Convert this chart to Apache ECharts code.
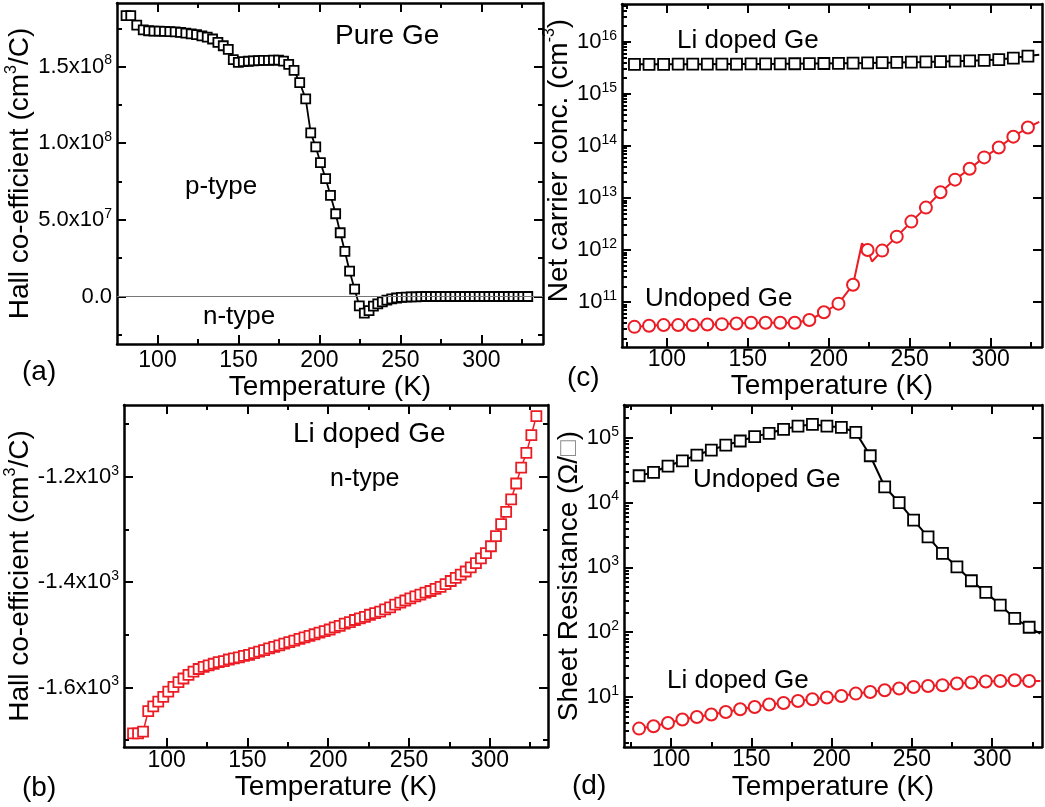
<!DOCTYPE html>
<html><head><meta charset="utf-8">
<script src="https://cdn.jsdelivr.net/npm/echarts@6/dist/echarts.min.js"></script>
<style>html,body{margin:0;padding:0;background:#fff}#c{width:1045px;height:807px}</style>
</head><body><div id="c"></div>
<script>
// ---------- DATA ----------
// (a) Pure Ge Hall coefficient (cm^3/C) vs T (K)
const aT = [80.6, 83.5, 87.2, 91.2, 94.5, 97.8, 101.0, 104.3, 107.6, 110.9,
  114.2, 117.5, 120.8, 124.1, 127.4, 130.7, 134.0, 137.3, 140.6, 143.7,
  146.8, 149.9, 153.0, 156.1, 159.2, 162.3, 165.4, 168.5, 171.6, 174.7,
  177.8, 181.0, 184.3, 187.8, 191.5, 194.6, 197.7, 200.6, 203.8, 206.8,
  210.0, 212.8, 215.7, 218.6, 221.7, 224.6, 227.7, 230.6, 233.3, 236.0,
  238.8, 241.6, 244.6, 247.6, 250.6, 253.6, 256.6, 259.6, 262.6, 265.6,
  268.6, 271.6, 274.6, 277.6, 280.6, 283.6, 286.6, 289.6, 292.6, 295.6,
  298.6, 301.6, 304.6, 307.6, 310.6, 313.6, 316.6, 319.6, 322.6, 325.6, 328.6];
const aR = [1.832e8, 1.832e8, 1.771e8, 1.740e8, 1.734e8, 1.732e8, 1.731e8, 1.730e8, 1.728e8, 1.726e8,
  1.723e8, 1.719e8, 1.714e8, 1.708e8, 1.701e8, 1.692e8, 1.680e8, 1.658e8, 1.636e8, 1.612e8,
  1.545e8, 1.528e8, 1.532e8, 1.535e8, 1.537e8, 1.539e8, 1.540e8, 1.541e8, 1.542e8, 1.542e8,
  1.536e8, 1.515e8, 1.475e8, 1.395e8, 1.290e8, 1.067e8, 0.976e8, 0.874e8, 0.769e8, 0.660e8,
  0.540e8, 0.416e8, 0.294e8, 0.165e8, 0.048e8, -0.061e8, -0.109e8, -0.092e8, -0.063e8, -0.048e8,
  -0.035e8, -0.024e8, -0.016e8, -0.010e8, -0.006e8, -0.004e8, -0.003e8, -0.002e8, -0.001e8, 0,
  0, 0, 0, 0, 0, 0, 0, 0, 0, 0,
  0, 0, 0, 0, 0, 0, 0, 0, 0, 0, 0];

// (b) Li doped Ge Hall coefficient (cm^3/C) vs T (K)
const bT = [79.2, 82.3, 85.4, 88.6, 91.7, 94.8, 97.9, 101.0, 104.2, 107.3,
  110.4, 113.5, 116.6, 119.8, 122.9, 126.0, 129.1, 132.2, 135.4, 138.5,
  141.6, 144.7, 147.8, 151.0, 154.1, 157.2, 160.3, 163.4, 166.6, 169.7,
  172.8, 175.9, 179.0, 182.2, 185.3, 188.4, 191.5, 194.6, 197.8, 200.9,
  204.0, 207.1, 210.2, 213.4, 216.5, 219.6, 222.7, 225.8, 229.0, 232.1,
  235.2, 238.3, 241.4, 244.6, 247.7, 250.8, 253.9, 257.0, 260.2, 263.3,
  266.4, 269.5, 272.6, 275.8, 278.9, 282.0, 285.1, 288.2, 291.4, 294.5,
  297.6, 300.7, 303.8, 307.0, 310.1, 313.2, 316.3, 319.4, 322.6, 325.7, 328.8];
const bR = [-1687, -1687, -1684, -1645, -1636, -1627, -1618, -1608, -1599, -1590,
  -1583, -1576, -1570, -1565, -1561, -1558, -1555, -1552, -1550, -1547,
  -1545, -1543, -1540, -1538, -1535, -1532, -1529, -1526, -1523, -1520,
  -1517, -1514, -1511, -1508, -1505, -1502, -1499, -1496, -1493, -1490,
  -1486, -1483, -1479, -1476, -1472, -1469, -1466, -1462, -1459, -1456,
  -1452, -1448, -1443, -1439, -1435, -1431, -1427, -1424, -1420, -1417,
  -1413, -1409, -1404, -1398, -1392, -1386, -1380, -1372, -1364, -1355,
  -1345, -1332, -1313, -1290, -1267, -1243, -1213, -1183, -1155, -1121, -1085];

// (c) Net carrier concentration (cm^-3) vs T (K)
const cT = [80, 89, 98, 107, 116, 125, 134, 143, 152, 161, 170, 179, 188, 197,
  206, 215, 224, 233, 242, 251, 260, 269, 278, 287, 296, 305, 314, 323];
const cLi = [3.68e15, 3.68e15, 3.69e15, 3.70e15, 3.70e15, 3.71e15, 3.72e15, 3.73e15, 3.74e15, 3.75e15,
  3.76e15, 3.78e15, 3.80e15, 3.82e15, 3.85e15, 3.88e15, 3.92e15, 3.96e15, 4.00e15, 4.05e15,
  4.10e15, 4.16e15, 4.24e15, 4.30e15, 4.40e15, 4.55e15, 4.85e15, 5.30e15];
const cLiLineT = [330];            // line runs on past the last marker
const cLiLine = [5.6e15];
const cUn = [3.33e10, 3.5e10, 3.6e10, 3.6e10, 3.6e10, 3.7e10, 3.75e10, 3.87e10, 4.0e10, 4.0e10,
  4.0e10, 4.0e10, 4.5e10, 6.35e10, 9.3e10, 2.15e11, 1.0e12, 9.7e11, 1.8e12, 3.5e12,
  6.5e12, 1.28e13, 2.24e13, 3.63e13, 6.0e13, 9.3e13, 1.5e14, 2.25e14];
const cUnLineT = [220.5, 226.7, 330];   // extra line-only points (spike, end)
const cUnLine = [1.34e12, 6.0e11, 2.9e14];

// (d) Sheet resistance (Ohm/sq) vs T (K)
const dT = [80, 89, 98, 107, 116, 125, 134, 143, 152, 161, 170, 179, 188, 197,
  206, 215, 224, 233, 242, 251, 260, 269, 278, 287, 296, 305, 314, 323];
const dUn = [2.59e4, 2.93e4, 3.66e4, 4.41e4, 5.41e4, 6.46e4, 7.7e4, 8.9e4, 1.04e5, 1.17e5,
  1.35e5, 1.51e5, 1.61e5, 1.51e5, 1.45e5, 1.21e5, 5.27e4, 1.75e4, 1.0e4, 5.37e3,
  2.96e3, 1.64e3, 1.02e3, 621, 411, 262, 163, 119];
const dUnLineT = [330];
const dUnLine = [95];
const dLi = [3.25, 3.53, 3.97, 4.48, 4.91, 5.35, 5.87, 6.46, 7.01, 7.64,
  8.08, 8.67, 9.22, 9.79, 10.36, 11.27, 11.94, 12.68, 13.48, 14.27,
  14.79, 15.15, 16.1, 16.68, 17.28, 17.67, 18.1, 17.67];
const dLiLineT = [330];
const dLiLine = [17.7];

// tick values
const xMajor = [100, 150, 200, 250, 300];
const xMinorAB = [125, 175, 225, 275, 325];
const xMinorCD = [75, 125, 175, 225, 275, 325];
const aYMajor = [0, 5e7, 1e8, 1.5e8];
const aYMinor = [-2.5e7, 2.5e7, 7.5e7, 1.25e8, 1.75e8];
const bYMajor = [-1600, -1400, -1200];
const bYMinor = [-1700, -1500, -1300, -1100];
const cYMajor = [1e11, 1e12, 1e13, 1e14, 1e15, 1e16];
const dYMajor = [1e1, 1e2, 1e3, 1e4, 1e5];

// ---------- STYLE / BUILD ----------
const FONT = '"Liberation Sans", Arial, Helvetica, sans-serif';
const RED = '#ec1c24';
const richTick = {
  b: {fontSize: 22, fontFamily: FONT, color: '#000', lineHeight: 26},
  s: {fontSize: 14, fontFamily: FONT, color: '#000', lineHeight: 14, verticalAlign: 'top'}
};
const richName = {
  n: {fontSize: 28, fontFamily: FONT, color: '#000', lineHeight: 34},
  s: {fontSize: 16, fontFamily: FONT, color: '#000', lineHeight: 16, verticalAlign: 'top'},
  g: {fontSize: 26, fontFamily: FONT, color: '#8c8c8c', lineHeight: 34}
};
function sciFmt(v) {
  if (v === 0) return '{b|0.0}';
  const e = Math.floor(Math.log10(Math.abs(v)) + 1e-9);
  const m = (v / Math.pow(10, e)).toFixed(1);
  return '{b|' + m + 'x10}{s|' + e + '}';
}
function powFmt(v) {
  return '{b|10}{s|' + Math.round(Math.log10(v)) + '}';
}
function logMinors(majors, lo, hi) {
  const out = [];
  const e0 = Math.round(Math.log10(majors[0])) - 1, e1 = Math.round(Math.log10(majors[majors.length - 1]));
  for (let e = e0; e <= e1; e++) for (let k = 2; k <= 9; k++) {
    const v = k * Math.pow(10, e);
    if (v > lo && v < hi) out.push(v);
  }
  return out;
}

const xAxes = [], yAxes = [];
const axLine = () => ({show: true, onZero: false, lineStyle: {color: '#000', width: 2.5}});
const noLine = () => ({show: false, onZero: false});
const tickStyle = {color: '#000', width: 2};
function addX(gi, min, max, minors, labelMargin, nameGap) {
  const base = {gridIndex: gi, type: 'value', min: min, max: max, splitLine: {show: false}};
  const idx = xAxes.length;
  xAxes.push(Object.assign({}, base, {position: 'bottom', axisLine: axLine(),
    axisTick: {show: true, inside: true, length: 9, lineStyle: tickStyle, customValues: xMajor},
    axisLabel: {show: true, customValues: xMajor, margin: labelMargin, fontSize: 23, color: '#000', fontFamily: FONT},
    name: 'Temperature (K)', nameLocation: 'middle', nameGap: nameGap,
    nameTextStyle: {fontSize: 28, color: '#000', fontFamily: FONT}}));
  xAxes.push(Object.assign({}, base, {position: 'bottom', axisLine: noLine(),
    axisTick: {show: true, inside: true, length: 5, lineStyle: tickStyle, customValues: minors}, axisLabel: {show: false}}));
  xAxes.push(Object.assign({}, base, {position: 'top', axisLine: axLine(),
    axisTick: {show: true, inside: true, length: 9, lineStyle: tickStyle, customValues: xMajor}, axisLabel: {show: false}}));
  xAxes.push(Object.assign({}, base, {position: 'top', axisLine: noLine(),
    axisTick: {show: true, inside: true, length: 5, lineStyle: tickStyle, customValues: minors}, axisLabel: {show: false}}));
  return idx;
}
function addY(gi, type, min, max, majors, minors, fmt, name, nameGap, namePad, rightMinor) {
  const base = {gridIndex: gi, type: type, min: min, max: max, splitLine: {show: false}};
  if (type === 'log') base.logBase = 10;
  const idx = yAxes.length;
  yAxes.push(Object.assign({}, base, {position: 'left', axisLine: axLine(),
    axisTick: {show: true, inside: true, length: 9, lineStyle: tickStyle, customValues: majors},
    axisLabel: {show: true, customValues: majors, margin: 5, formatter: fmt, rich: richTick},
    name: name, nameLocation: 'middle', nameGap: nameGap, nameRotate: 90,
    nameTextStyle: {fontSize: 28, color: '#000', fontFamily: FONT, rich: richName, padding: namePad}}));
  yAxes.push(Object.assign({}, base, {position: 'left', axisLine: noLine(),
    axisTick: {show: true, inside: true, length: 5, lineStyle: tickStyle, customValues: minors}, axisLabel: {show: false}}));
  yAxes.push(Object.assign({}, base, {position: 'right', axisLine: axLine(),
    axisTick: {show: true, inside: true, length: 9, lineStyle: tickStyle, customValues: majors}, axisLabel: {show: false}}));
  if (rightMinor) yAxes.push(Object.assign({}, base, {position: 'right', axisLine: noLine(),
    axisTick: {show: true, inside: true, length: 5, lineStyle: tickStyle, customValues: minors}, axisLabel: {show: false}}));
  return idx;
}

const grids = [
  {left: 117, top: 3, width: 426, height: 341},
  {left: 124, top: 405, width: 424, height: 342},
  {left: 622, top: 4, width: 420, height: 343},
  {left: 624, top: 405, width: 418, height: 342}
].map(g => Object.assign({show: false, containLabel: false, outerBoundsMode: 'none'}, g));

const cMin = 1.365e10, cMax = 5.31e16, dMin = 1.69, dMax = 3.2e5;
const xa = addX(0, 75, 338, xMinorAB, 5, 27);
const ya = addY(0, 'value', -3.1e7, 1.915e8, aYMajor, aYMinor, sciFmt,
  '{n|Hall co-efficient (cm}{s|3}{n|/C)}', 71, 0, true);
const xb = addX(1, 73.6, 336, xMinorAB, 2, 24);
const yb = addY(1, 'value', -1713, -1064, bYMajor, bYMinor, sciFmt,
  '{n|Hall co-efficient (cm}{s|3}{n|/C)}', 78, 0, true);
const xc = addX(2, 72.3, 331.7, xMinorCD, 1, 16);
const yc = addY(2, 'log', cMin, cMax, cYMajor, logMinors(cYMajor, cMin, cMax), powFmt,
  '{n|Net carrier conc. (cm}{s|-3}{n|)}', 35, [0, 0, 0, 30], false);
const xd = addX(3, 70.6, 331, xMinorCD, 1, 26);
const yd = addY(3, 'log', dMin, dMax, dYMajor, logMinors(dYMajor, dMin, dMax), powFmt,
  '{n|Sheet Resistance (Ω/}{g|□}{n|)}', 27, 0, false);

function pairs(xs, ys) { return xs.map((x, i) => [x, ys[i]]); }
function merged(xs, ys, ex, ey) { return pairs(xs, ys).concat(pairs(ex, ey)).sort((p, q) => p[0] - q[0]); }
function sq(color, size) { return {symbol: 'rect', symbolSize: size, itemStyle: {color: '#fff', borderColor: color, borderWidth: 1.8, opacity: 1}}; }
function ci(color, size) { return {symbol: 'circle', symbolSize: size, itemStyle: {color: '#fff', borderColor: color, borderWidth: 2, opacity: 1}}; }

const series = [
  Object.assign({type: 'line', name: 'Pure Ge', xAxisIndex: xa, yAxisIndex: ya, data: pairs(aT, aR),
    showSymbol: true, lineStyle: {color: '#000', width: 1.8}, z: 3,
    markLine: {silent: true, symbol: 'none', label: {show: false}, lineStyle: {color: '#777', width: 1, type: 'solid'},
      data: [{yAxis: 0}]}}, sq('#000', 9)),
  Object.assign({type: 'line', name: 'Li doped Ge (b)', xAxisIndex: xb, yAxisIndex: yb, data: pairs(bT, bR),
    showSymbol: true, lineStyle: {color: RED, width: 1.5}, z: 3}, sq(RED, 10)),
  {type: 'line', xAxisIndex: xc, yAxisIndex: yc, data: merged(cT, cLi, cLiLineT, cLiLine), showSymbol: false,
    symbol: 'none', lineStyle: {color: '#000', width: 2}, z: 2},
  Object.assign({type: 'scatter', name: 'Li doped Ge (c)', xAxisIndex: xc, yAxisIndex: yc, data: pairs(cT, cLi), z: 4}, sq('#000', 11)),
  {type: 'line', xAxisIndex: xc, yAxisIndex: yc, data: merged(cT, cUn, cUnLineT, cUnLine), showSymbol: false,
    symbol: 'none', lineStyle: {color: RED, width: 2}, z: 2},
  Object.assign({type: 'scatter', name: 'Undoped Ge (c)', xAxisIndex: xc, yAxisIndex: yc, data: pairs(cT, cUn), z: 4}, ci(RED, 12)),
  {type: 'line', xAxisIndex: xd, yAxisIndex: yd, data: merged(dT, dUn, dUnLineT, dUnLine), showSymbol: false,
    symbol: 'none', lineStyle: {color: '#000', width: 2}, z: 2},
  Object.assign({type: 'scatter', name: 'Undoped Ge (d)', xAxisIndex: xd, yAxisIndex: yd, data: pairs(dT, dUn), z: 4}, sq('#000', 11)),
  {type: 'line', xAxisIndex: xd, yAxisIndex: yd, data: merged(dT, dLi, dLiLineT, dLiLine), showSymbol: false,
    symbol: 'none', lineStyle: {color: RED, width: 2}, z: 2},
  Object.assign({type: 'scatter', name: 'Li doped Ge (d)', xAxisIndex: xd, yAxisIndex: yd, data: pairs(dT, dLi), z: 4}, ci(RED, 12))
];

function txt(s, x, y, size) {
  return {type: 'text', x: x, y: y, silent: true, z: 10,
    style: {text: s, fontSize: size, fontFamily: FONT, fill: '#000', align: 'left', verticalAlign: 'middle'}};
}
const graphic = [
  txt('Pure Ge', 335, 36, 28), txt('p-type', 185, 187, 26), txt('n-type', 203, 317, 26), txt('(a)', 22, 372, 28),
  txt('Li doped Ge', 293, 434, 28), txt('n-type', 330, 479, 25), txt('(b)', 22, 788, 28),
  txt('Li doped Ge', 677, 41, 26), txt('Undoped Ge', 645, 299, 26), txt('(c)', 567, 378, 28),
  txt('Undoped Ge', 693, 480, 26), txt('Li doped Ge', 667, 681, 26), txt('(d)', 572, 786, 28)
];

const chart = echarts.init(document.getElementById('c'), null, {renderer: 'canvas'});
chart.setOption({
  animation: false,
  backgroundColor: '#fff',
  textStyle: {fontFamily: FONT},
  grid: grids,
  xAxis: xAxes,
  yAxis: yAxes,
  series: series,
  graphic: graphic
});
</script></body></html>
